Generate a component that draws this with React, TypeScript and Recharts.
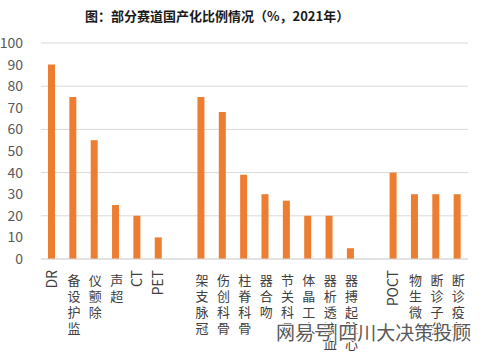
import { Bar, BarChart, CartesianGrid, XAxis, YAxis } from "recharts";

const categories = [
  "DR", "监护设备", "除颤仪", "超声", "CT", "PET", "",
  "冠脉支架", "骨科创伤", "骨科脊柱", "吻合器", "骨科关节", "人工晶体", "血液透析器", "心脏起搏器", " ",
  "POCT", "微生物", "分子诊断", "免疫诊断",
];

const shares: Array<number | null> = [
  90, 75, 55, 25, 20, 10, null,
  75, 68, 39, 30, 27, 20, 20, 5, null,
  40, 30, 30, 30,
];

const yTicks = [0, 10, 20, 30, 40, 50, 60, 70, 80, 90, 100];

const data = categories.map((name, i) => ({ name, share: shares[i] }));

const FONT = "'Noto Sans CJK SC', 'Noto Sans', sans-serif";

// labels read bottom-to-top; CJK glyphs stay upright, latin text is rotated
function CategoryTick(props: any) {
  const { x, y, payload } = props;
  const label: string = String(payload.value ?? "").trim();
  if (!label) return null;
  if (/^[\x00-\x7f]+$/.test(label)) {
    return (
      <text
        transform={`translate(${x},${y - 3}) rotate(-90)`}
        textAnchor="end"
        dy="0.36em"
        fontSize={14}
        fontFamily={FONT}
        fill="#404040"
      >
        {label}
      </text>
    );
  }
  const chars = label.split("").reverse();
  return (
    <g>
      {chars.map((c, i) => (
        <text
          key={i}
          x={x + 1}
          y={y + 6 + i * 16}
          textAnchor="middle"
          dominantBaseline="central"
          fontSize={13}
          fontFamily={FONT}
          fill="#404040"
        >
          {c}
        </text>
      ))}
    </g>
  );
}

export default function App() {
  return (
    <div
      style={{
        position: "absolute",
        left: 0,
        top: 0,
        width: 492,
        height: 352,
        background: "#fff",
        fontFamily: FONT,
      }}
    >
      <div
        style={{
          position: "absolute",
          left: 85,
          top: 6,
          fontSize: 13,
          fontWeight: 700,
          color: "#1a1a1a",
          whiteSpace: "nowrap",
        }}
      >
        图：部分赛道国产化比例情况（%，2021年）
      </div>
      <BarChart
        width={492}
        height={352}
        data={data}
        margin={{ top: 43, right: 24, bottom: 0, left: 0 }}
        barCategoryGap={0}
      >
        <CartesianGrid stroke="#d9d9d9" vertical={false} />
        <XAxis
          dataKey="name"
          interval={0}
          height={93}
          tickLine={false}
          axisLine={{ stroke: "#d9d9d9" }}
          tick={<CategoryTick />}
          tickMargin={8}
        />
        <YAxis
          width={41}
          domain={[0, 100]}
          ticks={yTicks}
          axisLine={false}
          tickLine={false}
          tickMargin={12}
          tick={{ fontSize: 14, fill: "#595959", fontFamily: FONT }}
        />
        <Bar dataKey="share" fill="#ed7d31" barSize={7} isAnimationActive={false} />
      </BarChart>
      <div
        style={{
          position: "absolute",
          left: 276,
          top: 318,
          fontSize: 19,
          color: "#5a5a5a",
          whiteSpace: "nowrap",
          textShadow: "1px 1px 0 #fff, -1px -1px 0 #fff",
        }}
      >
        网易号|四川大决策投顾
      </div>
    </div>
  );
}
